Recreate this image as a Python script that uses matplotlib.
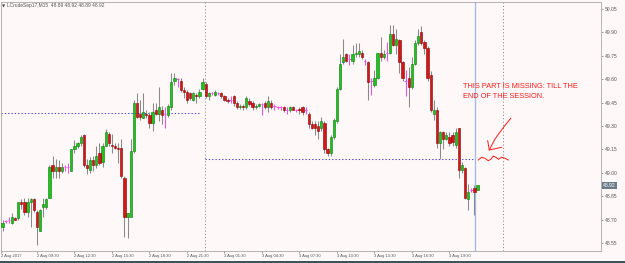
import numpy as np
import matplotlib
matplotlib.use("Agg")
from matplotlib import pyplot as plt
from matplotlib.lines import Line2D
from matplotlib.patches import Rectangle

# LCrudeSep17, M15 candles (open / high / low / close)
opens = [48.65, 48.69, 48.70, 48.68, 48.71, 48.71, 48.81, 48.81, 48.75, 48.81,
         48.83, 48.75, 48.63, 48.78, 48.78, 48.84, 49.05, 49.01, 49.04, 49.01,
         49.04, 49.04, 49.01, 49.15, 49.17, 49.19, 49.24, 49.05, 49.02, 49.08,
         49.05, 49.13, 49.07, 49.17, 49.25, 49.18, 49.17, 49.16, 49.16, 48.97,
         48.72, 48.72, 49.14, 49.45, 49.38, 49.35, 49.38, 49.37, 49.32, 49.40,
         49.38, 49.40, 49.38, 49.37, 49.42, 49.59, 49.60, 49.59, 49.53, 49.52,
         49.51, 49.47, 49.50, 49.49, 49.54, 49.57, 49.49, 49.51, 49.50, 49.51,
         49.51, 49.49, 49.47, 49.47, 49.49, 49.45, 49.42, 49.43, 49.42, 49.46,
         49.45, 49.42, 49.43, 49.44, 49.45, 49.42, 49.45, 49.43, 49.42, 49.42,
         49.42, 49.40, 49.40, 49.42, 49.40, 49.41, 49.42, 49.40, 49.38, 49.31,
         49.31, 49.30, 49.29, 49.32, 49.15, 49.13, 49.23, 49.33, 49.54, 49.71,
         49.76, 49.73, 49.72, 49.76, 49.76, 49.77, 49.72, 49.71, 49.59, 49.56,
         49.61, 49.77, 49.74, 49.77, 49.77, 49.89, 49.82, 49.85, 49.71, 49.59,
         49.61, 49.55, 49.70, 49.83, 49.90, 49.84, 49.80, 49.63, 49.38, 49.40,
         49.19, 49.26, 49.22, 49.23, 49.24, 49.18, 49.29, 49.02, 49.03, 48.83,
         48.89, 48.90, 48.89]
highs = [48.70, 48.70, 48.72, 48.74, 48.72, 48.81, 48.83, 48.84, 48.84, 48.84,
         48.84, 48.76, 48.77, 48.84, 48.84, 49.05, 49.11, 49.09, 49.08, 49.06,
         49.05, 49.06, 49.15, 49.21, 49.20, 49.24, 49.25, 49.09, 49.10, 49.11,
         49.17, 49.19, 49.19, 49.28, 49.26, 49.25, 49.19, 49.19, 49.22, 48.98,
         48.74, 49.22, 49.47, 49.51, 49.47, 49.51, 49.40, 49.39, 49.45, 49.45,
         49.55, 49.43, 49.42, 49.44, 49.64, 49.64, 49.61, 49.61, 49.55, 49.53,
         49.52, 49.52, 49.51, 49.54, 49.61, 49.58, 49.52, 49.52, 49.53, 49.52,
         49.52, 49.50, 49.48, 49.49, 49.50, 49.46, 49.44, 49.44, 49.49, 49.48,
         49.46, 49.44, 49.45, 49.45, 49.46, 49.49, 49.47, 49.44, 49.43, 49.43,
         49.43, 49.42, 49.43, 49.43, 49.41, 49.42, 49.43, 49.42, 49.39, 49.33,
         49.33, 49.33, 49.36, 49.33, 49.16, 49.24, 49.35, 49.55, 49.76, 49.86,
         49.77, 49.76, 49.82, 49.83, 49.83, 49.79, 49.73, 49.72, 49.61, 49.66,
         49.77, 49.87, 49.79, 49.84, 49.95, 49.95, 49.92, 49.86, 49.72, 49.66,
         49.68, 49.74, 49.85, 49.92, 49.94, 49.85, 49.81, 49.65, 49.47, 49.42,
         49.27, 49.27, 49.26, 49.26, 49.26, 49.29, 49.29, 49.07, 49.04, 48.93,
         48.90, 48.92, 48.92]
lows = [48.63, 48.68, 48.68, 48.67, 48.70, 48.70, 48.77, 48.73, 48.72, 48.65,
        48.75, 48.54, 48.63, 48.72, 48.77, 48.84, 48.97, 48.97, 48.97, 49.00,
        49.01, 49.00, 49.01, 49.13, 49.16, 49.17, 49.04, 48.99, 49.00, 49.01,
        49.03, 49.05, 49.04, 49.17, 49.17, 49.13, 49.15, 49.06, 48.97, 48.59,
        48.58, 48.72, 49.13, 49.35, 49.34, 49.35, 49.35, 49.29, 49.27, 49.37,
        49.33, 49.31, 49.29, 49.36, 49.40, 49.56, 49.55, 49.52, 49.48, 49.45,
        49.47, 49.46, 49.45, 49.48, 49.53, 49.48, 49.47, 49.50, 49.49, 49.50,
        49.48, 49.46, 49.45, 49.45, 49.43, 49.41, 49.41, 49.40, 49.41, 49.43,
        49.40, 49.41, 49.42, 49.37, 49.41, 49.39, 49.41, 49.40, 49.41, 49.40,
        49.39, 49.38, 49.39, 49.40, 49.39, 49.38, 49.37, 49.38, 49.29, 49.28,
        49.24, 49.22, 49.27, 49.13, 49.11, 49.11, 49.22, 49.32, 49.53, 49.70,
        49.71, 49.69, 49.70, 49.74, 49.74, 49.73, 49.69, 49.47, 49.50, 49.55,
        49.60, 49.72, 49.73, 49.72, 49.76, 49.81, 49.76, 49.64, 49.59, 49.49,
        49.42, 49.54, 49.69, 49.82, 49.82, 49.76, 49.59, 49.39, 49.34, 49.16,
        49.09, 49.15, 49.21, 49.17, 49.17, 49.16, 48.97, 49.00, 48.83, 48.76,
        48.88, 48.73, 48.89]
closes = [48.68, 48.69, 48.70, 48.72, 48.70, 48.81, 48.80, 48.75, 48.81, 48.83,
          48.76, 48.65, 48.76, 48.80, 48.83, 49.04, 49.01, 49.04, 49.01, 49.04,
          49.04, 49.04, 49.15, 49.17, 49.19, 49.23, 49.05, 49.03, 49.08, 49.05,
          49.11, 49.06, 49.17, 49.26, 49.19, 49.17, 49.16, 49.15, 48.98, 48.72,
          48.74, 49.14, 49.45, 49.36, 49.36, 49.39, 49.37, 49.32, 49.39, 49.38,
          49.42, 49.37, 49.38, 49.43, 49.58, 49.61, 49.60, 49.53, 49.52, 49.47,
          49.48, 49.51, 49.49, 49.52, 49.58, 49.49, 49.51, 49.51, 49.52, 49.51,
          49.49, 49.47, 49.46, 49.47, 49.45, 49.42, 49.43, 49.42, 49.48, 49.44,
          49.42, 49.43, 49.44, 49.44, 49.42, 49.46, 49.42, 49.43, 49.42, 49.42,
          49.40, 49.40, 49.42, 49.40, 49.40, 49.40, 49.39, 49.40, 49.31, 49.29,
          49.29, 49.27, 49.33, 49.15, 49.13, 49.23, 49.34, 49.54, 49.70, 49.74,
          49.72, 49.73, 49.76, 49.77, 49.78, 49.74, 49.72, 49.58, 49.59, 49.61,
          49.77, 49.74, 49.76, 49.77, 49.89, 49.82, 49.86, 49.71, 49.61, 49.59,
          49.55, 49.70, 49.83, 49.88, 49.83, 49.80, 49.61, 49.40, 49.40, 49.19,
          49.26, 49.22, 49.24, 49.19, 49.20, 49.26, 49.02, 49.05, 48.84, 48.88,
          48.89, 48.88, 48.92]

price_ticks = [48.55, 48.70, 48.85, 49.00, 49.15, 49.30, 49.45, 49.60, 49.75, 49.90, 50.05]
time_labels = ["2 Aug 2017", "2 Aug 09:30", "2 Aug 12:30", "2 Aug 15:30", "2 Aug 18:30",
               "2 Aug 21:30", "3 Aug 01:30", "3 Aug 04:30", "3 Aug 07:30", "3 Aug 10:30",
               "3 Aug 13:30", "3 Aug 16:30", "3 Aug 19:30"]
bars_per_label = 12

# objects drawn on the chart by the user (bar index / price)
separator_bars = [64.8, 160.1]
blue_vline_bar = 151.2
level_lines = [(49.383, -0.5, 62.9), (49.088, 64.8, 151.2)]
last_price = 48.92

BG = '#FFF8F8'
WICK = '#8A8A8A'
DOJI = '#F050F0'
GREEN, GREEN_EDGE = '#1CC41C', '#0B7A0B'
RED, RED_EDGE = '#D01818', '#8A0000'
FONT = 'Liberation Sans'


def px(x, y):
	"""screen pixel of the 625x263 picture -> figure fraction"""
	return x / 625, 1 - y / 263


def drawCandles(ax):
	x = np.arange(len(opens))
	o, h, l, c = map(np.array, (opens, highs, lows, closes))
	up, down, flat = c > o, c < o, c == o

	ax.vlines(x[~flat], l[~flat], h[~flat], color=WICK, lw=0.75, zorder=2)
	ax.vlines(x[flat], l[flat], h[flat], color=DOJI, lw=0.75, zorder=2)
	ax.hlines(c[flat], x[flat] - 0.4, x[flat] + 0.4, color=DOJI, lw=0.75, zorder=3)

	ax.bar(x[up], (c - o)[up], bottom=o[up], width=0.72, color=GREEN,
		edgecolor=GREEN_EDGE, lw=0.4, zorder=3)
	ax.bar(x[down], (o - c)[down], bottom=c[down], width=0.72, color=RED,
		edgecolor=RED_EDGE, lw=0.4, zorder=3)


fig = plt.figure(figsize=(6.25, 2.63), dpi=100, facecolor=BG)
ax = fig.add_axes([1 / 625, 12 / 263, 600 / 625, 249 / 263])
ax.set_facecolor(BG)

drawCandles(ax)

# user lines
for b in separator_bars:
	ax.axvline(b, color='#8C8C8C', lw=0.7, ls=(0, (1.2, 2.2)), zorder=1)
ax.axvline(blue_vline_bar, color='#9BB8E6', lw=0.9, zorder=1)
for price, b0, b1 in level_lines:
	ax.hlines(price, b0, b1, color='#3C3CD8', lw=0.75, ls=(0, (1.2, 2.0)), zorder=1)

ax.set_xlim(-0.51, 191.5)
ax.set_ylim(48.499, 50.095)

# price scale on the right
ax.yaxis.tick_right()
ax.set_yticks(price_ticks)
ax.set_yticklabels([f'{p:.2f}' for p in price_ticks], fontsize=3.6, color='#555555', family=FONT)
ax.tick_params(axis='y', length=1.5, width=0.5, pad=1.2, colors='#777777', labelcolor='#555555')

# time scale
tick_pos = [max(k * bars_per_label - 1, -0.5) for k in range(len(time_labels))]
ax.set_xticks(tick_pos)
ax.set_xticklabels(time_labels, fontsize=3.0, color='#555555', family=FONT, ha='left')
ax.tick_params(axis='x', length=1.5, width=0.5, pad=1.0, colors='#777777', labelcolor='#555555')

for s in ax.spines.values():
	s.set_color('#A8A8A8')
	s.set_linewidth(0.6)

# last price box on the scale
ax.annotate(f'{last_price:.2f}', xy=(1, last_price), xycoords=('axes fraction', 'data'),
	xytext=(1.6, 0), textcoords='offset points', ha='left', va='center',
	fontsize=3.6, family=FONT, color='white',
	bbox=dict(boxstyle='square,pad=0.25', fc='#6B7B8B', ec='none'))

# header
fig.text(*px(2, 6), '\u25bc', fontsize=3, color='#444444', va='center')
fig.text(*px(7, 6), 'LCrudeSep17,M15  48.89 48.92 48.89 48.92', fontsize=3.5,
	family=FONT, color='#555555', va='center')

# red hand-written note
note = '#FF1A1A'
fig.text(*px(463, 86), 'THIS PART IS MISSING: TILL THE', fontsize=5.3, family=FONT,
	color=note, va='center')
fig.text(*px(463, 97), 'END OF THE SESSION.', fontsize=5.3, family=FONT,
	color=note, va='center')

arrow = [(510.7, 118.3), (503, 128), (495, 139), (489.3, 150)]
head = [(487.7, 140.7), (489.3, 150), (501.7, 147.3)]
squiggle = [(478.3, 160), (481.7, 157.3), (485, 158.3), (488.3, 160.7), (490.7, 159.3),
	(493.3, 156), (496, 157.3), (498.3, 159.3), (501.7, 157.3), (505, 158.3), (508.3, 160)]
for pts in (arrow, head, squiggle):
	xs, ys = zip(*[px(*p) for p in pts])
	fig.add_artist(Line2D(xs, ys, transform=fig.transFigure, color=note, lw=0.7))

# dark window edge along the bottom
fig.add_artist(Rectangle(px(0, 263), 1, 2 / 263, transform=fig.transFigure,
	color='#3A5560', lw=0))

fig.savefig('out.png', dpi=100, facecolor=BG)
